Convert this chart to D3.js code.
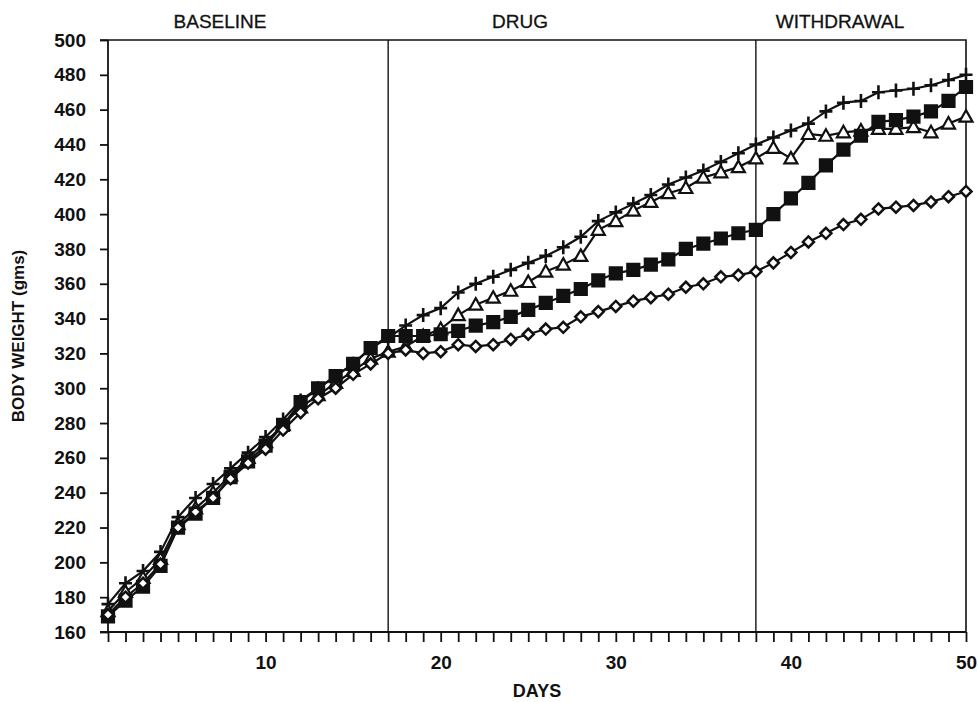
<!DOCTYPE html>
<html>
<head>
<meta charset="utf-8">
<script src="https://d3js.org/d3.v7.min.js"></script>
<style>
  body { margin: 0; background: #fff; }
  text { font-family: "Liberation Sans", Arial, sans-serif; fill: #111; }
</style>
</head>
<body>
<script>
// days 1..50
const days = [1,2,3,4,5,6,7,8,9,10,11,12,13,14,15,16,17,18,19,20,21,22,23,24,25,
  26,27,28,29,30,31,32,33,34,35,36,37,38,39,40,41,42,43,44,45,46,47,48,49,50];

const crossVals = [176,188,195,206,226,237,245,254,263,272,282,293,300,307,314,323,329,
  336,342,346,355,360,364,368,372,376,381,387,396,401,406,411,417,421,425,430,435,440,
  444,448,452,459,464,465,470,471,472,474,477,480];
const triVals = [172,183,191,202,222,231,240,250,260,269,279,289,296,303,310,317,321,
  324,330,334,342,348,352,356,361,367,371,376,391,396,402,407,412,415,421,424,427,432,
  438,432,446,445,447,448,449,449,450,447,452,456];
const squareVals = [169,178,186,198,220,228,237,249,258,267,279,292,300,307,314,323,330,
  330,330,331,333,336,338,341,345,349,353,357,362,366,368,371,374,380,383,386,389,391,
  400,409,418,428,437,445,453,454,456,459,465,473];
const diamondVals = [170,180,188,199,220,229,237,248,257,265,276,286,294,300,308,314,320,
  322,320,321,325,324,325,328,331,334,335,341,344,347,350,352,354,358,360,364,365,367,
  372,378,384,389,394,397,403,404,405,407,410,413];

const yTicks = [160,180,200,220,240,260,280,300,320,340,360,380,400,420,440,460,480,500];
const xLabels = [10,20,30,40,50];
const phaseBreaks = [17, 38];
const phaseLabels = ["BASELINE", "DRUG", "WITHDRAWAL"];

const W = 979, H = 702;
const svg = d3.select("body").append("svg").attr("width", W).attr("height", H);

const x = d3.scaleLinear().domain([1, 50]).range([108, 966]);
const y = d3.scaleLinear().domain([160, 500]).range([632, 40]);

// frame: top and right
svg.append("path")
  .attr("d", `M${x(1) - 8},${y(500)}H${x(50)}V${y(160)}`)
  .attr("fill", "none").attr("stroke", "#111").attr("stroke-width", 1.6);

// phase dividers
svg.selectAll("line.phase").data(phaseBreaks).enter().append("line")
  .attr("class", "phase")
  .attr("x1", d => x(d)).attr("x2", d => x(d))
  .attr("y1", y(500)).attr("y2", y(160))
  .attr("stroke", "#111").attr("stroke-width", 1.4);

// axes
const yAxis = d3.axisLeft(y).tickValues(yTicks).tickSize(8).tickSizeOuter(0).tickPadding(14);
const gy = svg.append("g").attr("transform", `translate(${x(1)},0)`).call(yAxis);
gy.selectAll("text").attr("font-size", 19).attr("font-weight", "bold")
  .attr("font-family", "Liberation Sans, Arial, sans-serif");

const xAxis = d3.axisBottom(x).tickValues(days).tickSize(10).tickSizeOuter(0).tickPadding(14)
  .tickFormat(d => xLabels.includes(d) ? d : "");
const gx = svg.append("g").attr("transform", `translate(0,${y(160)})`).call(xAxis);
gx.selectAll("text").attr("font-size", 19).attr("font-weight", "bold")
  .attr("font-family", "Liberation Sans, Arial, sans-serif");

[gx, gy].forEach(g => {
  g.select(".domain").attr("stroke", "#111").attr("stroke-width", 1.8);
  g.selectAll(".tick line").attr("stroke", "#111").attr("stroke-width", 1.8);
});
// extend axis lines to the outer tick
gx.select(".domain").attr("d", `M${x(1) - 8},0H${x(50)}`);
gy.select(".domain").attr("d", `M0,${y(500)}V${y(160)}`);

// phase titles
svg.selectAll("text.phase").data(phaseLabels).enter().append("text")
  .attr("class", "phase")
  .attr("x", (d, i) => [220, 520, 840][i])
  .attr("y", 28)
  .attr("text-anchor", "middle")
  .attr("font-size", 19)
  .attr("stroke", "#111").attr("stroke-width", 0.3)
  .text(d => d);

// axis titles
svg.append("text").attr("x", 537).attr("y", 697).attr("text-anchor", "middle")
  .attr("font-size", 18).attr("font-weight", "bold").text("DAYS");
svg.append("text").attr("transform", `translate(24,${(y(160) + y(500)) / 2}) rotate(-90)`)
  .attr("text-anchor", "middle").attr("font-size", 17).attr("font-weight", "bold")
  .text("BODY WEIGHT (gms)");

// series
const line = d3.line().x(d => x(d[0])).y(d => y(d[1]));
const series = [
  {vals: crossVals, marker: "cross"},
  {vals: triVals, marker: "tri"},
  {vals: squareVals, marker: "square"},
  {vals: diamondVals, marker: "diamond"}
];

const markerPath = {
  cross: "M-6.5,0H6.5M0,-7V7",
  tri: "M0,-6.5L6.5,5L-6.5,5Z",
  square: "M-6,-6H6V6H-6Z",
  diamond: "M0,-5.5L5.5,0L0,5.5L-5.5,0Z"
};

series.forEach(s => {
  const pts = days.map((d, i) => [d, s.vals[i]]);
  svg.append("path").datum(pts)
    .attr("d", line).attr("fill", "none")
    .attr("stroke", "#111").attr("stroke-width", 2.2);
  svg.append("g").selectAll("path").data(pts).enter().append("path")
    .attr("transform", d => `translate(${x(d[0])},${y(d[1])})`)
    .attr("d", markerPath[s.marker])
    .attr("fill", s.marker === "square" ? "#111" : (s.marker === "cross" ? "none" : "#fff"))
    .attr("stroke", "#111")
    .attr("stroke-width", s.marker === "cross" ? 2.6 : (s.marker === "diamond" ? 2.5 : 2.2))
    .attr("stroke-linejoin", "miter");
});
</script>
</body>
</html>
